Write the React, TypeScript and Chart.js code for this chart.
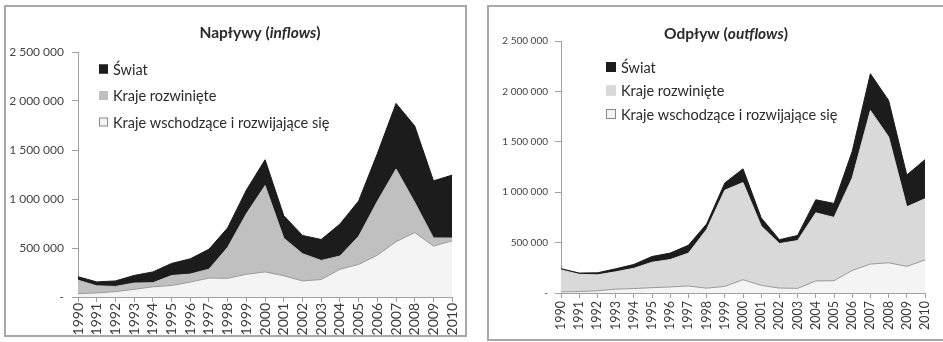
import React, { useEffect, useRef } from "react";
import { Chart, registerables } from "chart.js";
Chart.register(...registerables);

const years = ["1990","1991","1992","1993","1994","1995","1996","1997","1998","1999","2000","2001","2002","2003","2004","2005","2006","2007","2008","2009","2010"];

const inflowWorld = [207455,154072,163936,220484,255885,342544,389431,488178,705908,1091440,1400541,829576,627975,586956,744329,980727,1463351,1975537,1744101,1185030,1243671];
const inflowDeveloped = [172000,114000,108000,142000,146000,219000,234000,284000,507000,850000,1137000,600000,442000,373000,418000,619000,977000,1306000,965000,603000,602000];
const inflowDeveloping = [35000,41000,55000,78000,104000,117000,152000,193000,191000,231880,256087,216973,163599,178699,283030,332343,427163,564930,658002,519225,573568];

const outflowWorld = [241498,198000,200000,240000,283000,362000,396000,474000,684000,1092000,1232000,746000,529000,571000,925000,889000,1405000,2175000,1911000,1171000,1323000];
const outflowDeveloped = [229000,185000,180000,210000,245000,305000,332000,395000,630000,1020000,1095000,665000,490000,520000,795000,750000,1140000,1810000,1550000,855000,935000];
const outflowDeveloping = [12000,14000,22000,38000,44000,53000,60000,70000,48000,66000,132000,76000,49000,46000,120000,122000,224000,287000,300000,264000,328000];

const seriesNames = ["Świat", "Kraje rozwinięte", "Kraje wschodzące i rozwijające się"];
const yTicks = [0, 500000, 1000000, 1500000, 2000000, 2500000];

const FONT = "Lato, 'Open Sans', sans-serif";

function fmt(v: number): string {
  if (v === 0) return "-";
  return String(Math.round(v)).replace(/\B(?=(\d{3})+(?!\d))/g, " ");
}

type Geo = {
  left: number; right: number; top: number; bottom: number;
  titleX: number; titleY: number;
  legendX: number; legendY: number; legendGap: number; legendBox: number;
  yFont: number; xFont: number; yPad: number; xPad: number;
};

type Props = {
  title: [string, string];
  world: number[]; developed: number[]; developing: number[];
  devColor: string;
  geo: Geo;
};

function AreaChart({ title, world, developed, developing, devColor, geo }: Props) {
  const ref = useRef<HTMLCanvasElement | null>(null);
  useEffect(() => {
    const canvas = ref.current!;
    const W = 470, H = 342;
    const overlay = {
      id: "overlay",
      afterDraw(chart: any) {
        const ctx = chart.ctx as CanvasRenderingContext2D;
        ctx.save();
        const parts = [
          { t: title[0] + " (", f: `bold 15.5px ${FONT}` },
          { t: title[1], f: `italic bold 15.5px ${FONT}` },
          { t: ")", f: `bold 15.5px ${FONT}` },
        ];
        let total = 0;
        parts.forEach((p) => { ctx.font = p.f; total += ctx.measureText(p.t).width; });
        let x = geo.titleX - total / 2;
        ctx.fillStyle = "#2a2a2a";
        ctx.textBaseline = "middle";
        ctx.textAlign = "left";
        parts.forEach((p) => { ctx.font = p.f; ctx.fillText(p.t, x, geo.titleY); x += ctx.measureText(p.t).width; });
        const fills = ["#1c1c1c", devColor, "#f4f4f4"];
        const strokes = ["#1c1c1c", devColor, "#8a8a8a"];
        ctx.font = `14.5px ${FONT}`;
        seriesNames.forEach((name, i) => {
          const cy = geo.legendY + i * geo.legendGap;
          const b = geo.legendBox;
          ctx.fillStyle = fills[i];
          ctx.fillRect(geo.legendX, cy - b / 2, b, b);
          ctx.strokeStyle = strokes[i];
          ctx.lineWidth = 1;
          ctx.strokeRect(geo.legendX + 0.5, cy - b / 2 + 0.5, b - 1, b - 1);
          ctx.fillStyle = "#2a2a2a";
          ctx.fillText(name, geo.legendX + b + 5, cy + 1);
        });
        ctx.restore();
      },
    };
    const chart = new Chart(canvas, {
      type: "line",
      data: {
        labels: years,
        datasets: [
          { label: seriesNames[2], data: developing, fill: "origin", backgroundColor: "#f4f4f4", borderColor: "#9a9a9a", borderWidth: 1, pointRadius: 0, tension: 0 },
          { label: seriesNames[1], data: developed, fill: "origin", backgroundColor: devColor, borderColor: devColor, borderWidth: 1, pointRadius: 0, tension: 0 },
          { label: seriesNames[0], data: world, fill: "origin", backgroundColor: "#1c1c1c", borderColor: "#1c1c1c", borderWidth: 1, pointRadius: 0, tension: 0 },
        ],
      },
      options: {
        responsive: false,
        animation: false,
        layout: { padding: { left: 0, right: W - geo.right, top: geo.top, bottom: 0 } },
        plugins: { legend: { display: false }, title: { display: false }, tooltip: { enabled: false } },
        scales: {
          x: {
            type: "category",
            offset: false,
            grid: { display: true, drawOnChartArea: false, drawTicks: true, tickLength: 5, color: "#a0a0a0" },
            border: { display: true, color: "#a0a0a0" },
            ticks: { autoSkip: false, maxRotation: 90, minRotation: 90, padding: geo.xPad, color: "#3a3a3a", font: { family: FONT, size: geo.xFont } },
            afterFit: (s: any) => { s.height = H - geo.bottom; },
          },
          y: {
            min: 0, max: 2500000,
            afterBuildTicks: (s: any) => { s.ticks = yTicks.map((v) => ({ value: v })); },
            grid: { display: true, drawOnChartArea: false, drawTicks: true, tickLength: 6, color: "#a0a0a0" },
            border: { display: true, color: "#a0a0a0" },
            ticks: { padding: geo.yPad, color: "#444444", font: { family: FONT, size: geo.yFont }, callback: (v: any) => fmt(Number(v)) },
            afterFit: (s: any) => { s.width = geo.left; },
          },
        },
      },
      plugins: [overlay],
    } as any);
    return () => chart.destroy();
  }, []);
  return <canvas ref={ref} width={470} height={342} style={{ width: 470, height: 342, display: "block" }} />;
}

const leftGeo: Geo = { left: 78, right: 454, top: 52, bottom: 297, titleX: 260, titleY: 33, legendX: 99, legendY: 69, legendGap: 26.5, legendBox: 9, yFont: 12, xFont: 14, yPad: 8, xPad: 1 };
const rightGeo: Geo = { left: 88, right: 463, top: 41, bottom: 293, titleX: 253, titleY: 34, legendX: 133, legendY: 67, legendGap: 23.5, legendBox: 10, yFont: 10, xFont: 12.5, yPad: 7, xPad: 3 };

export default function App() {
  return (
    <div style={{ position: "absolute", left: 0, top: 0, width: 943, height: 342, overflow: "hidden", background: "#fff" }}>
      <div style={{ position: "absolute", left: 4, top: 5, width: 463, height: 332, border: "2px solid #a8a8a8", boxSizing: "border-box" }} />
      <div style={{ position: "absolute", left: 487, top: 5, width: 500, height: 336, border: "2px solid #a8a8a8", boxSizing: "border-box" }} />
      <div style={{ position: "absolute", left: 0, top: 0 }}>
        <AreaChart title={["Napływy", "inflows"]} world={inflowWorld} developed={inflowDeveloped} developing={inflowDeveloping} devColor="#c0c0c0" geo={leftGeo} />
      </div>
      <div style={{ position: "absolute", left: 473, top: 0 }}>
        <AreaChart title={["Odpływ", "outflows"]} world={outflowWorld} developed={outflowDeveloped} developing={outflowDeveloping} devColor="#d9d9d9" geo={rightGeo} />
      </div>
    </div>
  );
}
